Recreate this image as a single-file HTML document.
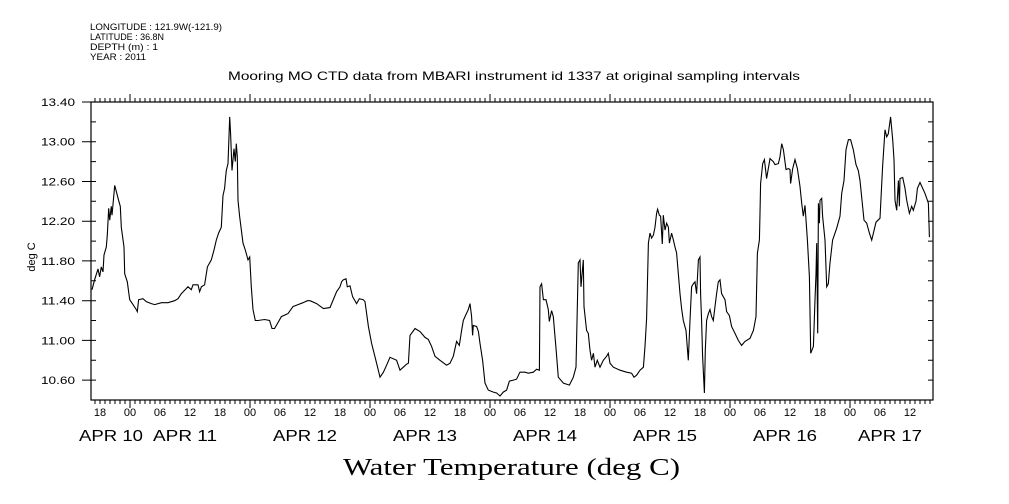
<!DOCTYPE html>
<html><head><meta charset="utf-8"><style>
body{margin:0;background:#fff;}
svg{display:block;font-family:"Liberation Sans",sans-serif;}
</style></head><body>
<svg id="chart" width="1009" height="504" viewBox="0 0 1009 504" xmlns="http://www.w3.org/2000/svg">
<g font-size="9" fill="#000">
<text x="90" y="30" textLength="132" lengthAdjust="spacingAndGlyphs">LONGITUDE : 121.9W(-121.9)</text>
<text x="90" y="40" textLength="74" lengthAdjust="spacingAndGlyphs">LATITUDE : 36.8N</text>
<text x="90" y="50" textLength="68" lengthAdjust="spacingAndGlyphs">DEPTH (m) : 1</text>
<text x="90" y="60" textLength="56" lengthAdjust="spacingAndGlyphs">YEAR : 2011</text>
</g>
<text x="228" y="80" font-size="12" textLength="572" lengthAdjust="spacingAndGlyphs">Mooring MO CTD data from MBARI instrument id 1337 at original sampling intervals</text>
<text x="0" y="0" font-size="11" text-anchor="middle" transform="translate(35,257) rotate(-90)">deg C</text>
<text x="343" y="475" font-size="24" textLength="337" lengthAdjust="spacingAndGlyphs" font-family="'Liberation Serif',serif">Water Temperature (deg C)</text>
<rect x="91" y="102" width="842" height="298" fill="none" stroke="#000" stroke-width="1.2"/>
<g id="ticks"></g>
<g id="labels"></g>
<path id="line" fill="none" stroke="#000" stroke-width="1.1"/>
</svg>
<script>
const hours=[-7.6,-7.07,-6.4,-6.07,-5.73,-5.4,-5.2,-4.73,-4.53,-4.27,-4.07,-3.73,-3.6,-3.2,-3.07,-2.73,-2.27,-1.93,-1.73,-1.2,-1.07,-0.53,-0.07,0.6,1.27,1.47,1.73,2.6,3.27,4.27,4.93,6.27,7.6,8.93,9.6,10.27,11.6,12.27,12.6,13.6,13.93,14.27,14.93,15.47,16.27,16.8,17.27,17.73,18.27,18.6,18.93,19.07,19.27,19.6,19.93,20.13,20.4,20.8,21.07,21.27,21.47,21.6,21.93,22.6,23.07,23.6,23.93,24.27,24.6,25.07,25.6,26.93,27.93,28.4,28.93,30.27,31.6,32.6,33.6,34.6,35.47,
36,37.33,38.67,40,41.33,42,42.33,42.67,43.2,43.47,44,44.53,45.33,45.87,46.67,47,47.67,48.33,49.33,50,50.67,51.33,52,53.33,54,54.67,55.33,55.67,56,57,58,59,59.67,60.33,61,62,63.33,64,64.67,65.33,65.87,66.33,66.67,67,67.67,68,68.33,68.53,68.67,69.33,69.67,70,70.53,71,71.67,72.67,73.33,74,74.67,75.33,75.87,76.67,77.33,77.87,
78,79,79.67,80.67,81.33,81.87,82,82.33,82.67,83.2,83.67,83.87,84.33,84.67,85.2,85.67,86.67,87.87,88.67,89.2,89.67,90,90.2,90.67,90.8,91.33,91.67,92,92.33,92.67,93,93.47,94,94.67,95.33,95.67,96,96.67,98,99.33,100.33,100.8,101.33,102,102.67,103,103.33,103.67,104,104.33,104.67,105,105.33,105.53,105.87,106.13,106.47,106.67,107,107.33,107.67,107.87,108.33,108.67,109,109.33,110,110.33,110.67,111.2,111.67,112,112.33,112.67,113,113.33,113.67,114,114.13,114.33,114.53,114.87,115.07,115.33,115.67,116,116.33,116.67,117,117.33,117.67,118,118.33,119,119.33,119.87,
120.33,121,121.67,122.33,123,124,124.67,125.2,125.47,125.87,126,126.13,126.53,126.87,127.33,127.67,128,128.67,129,129.67,130,130.33,130.67,131.2,131.67,132,132.13,132.53,133,133.47,134,134.33,134.67,135,135.47,135.87,136.13,136.67,137,137.2,137.33,137.53,137.67,137.87,138,138.33,138.53,139,139.33,139.67,140,140.53,141.33,142,142.33,142.8,143.2,143.67,144.13,144.67,145.2,145.67,146,146.8,147.33,147.87,148.33,148.67,149.2,150,150.53,151,151.33,151.67,152.13,152.53,152.8,153,153.33,153.67,153.87,154,154.53,155,155.33,155.87,156.33,156.67,157.2,157.47,158,158.53,159,159.47,159.67,159.87];
const temps=[11.51,11.61,11.72,11.64,11.74,11.69,11.86,11.94,12.06,12.33,12.21,12.35,12.26,12.48,12.56,12.50,12.41,12.35,12.14,11.94,11.67,11.59,11.41,11.36,11.31,11.29,11.41,11.42,11.39,11.37,11.36,11.38,11.38,11.40,11.42,11.47,11.54,11.51,11.56,11.56,11.49,11.54,11.56,11.74,11.81,11.91,12.01,12.08,12.14,12.46,12.53,12.61,12.71,12.78,13.25,13.08,12.71,12.93,12.80,12.98,12.85,12.41,12.25,11.98,11.91,11.81,11.84,11.54,11.31,11.20,11.20,11.21,11.20,11.12,11.12,11.24,11.27,11.34,11.36,11.38,11.40,
11.40,11.37,11.32,11.33,11.49,11.54,11.59,11.61,11.62,11.54,11.55,11.44,11.37,11.42,11.41,11.39,11.14,10.97,10.77,10.63,10.68,10.75,10.83,10.80,10.70,10.73,10.76,10.77,11.05,11.12,11.09,11.03,11.01,10.94,10.84,10.80,10.75,10.77,10.84,10.99,10.95,11.10,11.20,11.24,11.31,11.37,11.24,11.05,11.15,11.14,11.09,10.97,10.80,10.57,10.50,10.48,10.47,10.44,10.48,10.50,10.59,10.60,10.61,10.67,
10.68,10.68,10.67,10.68,10.71,10.70,11.54,11.57,11.41,11.41,11.31,11.19,11.30,11.24,10.92,10.63,10.57,10.55,10.63,10.73,11.78,11.81,11.54,11.81,11.34,11.10,11.07,10.90,10.80,10.87,10.73,10.80,10.73,10.80,10.84,10.87,10.77,10.73,10.70,10.68,10.67,10.63,10.65,10.70,10.73,10.94,11.22,11.98,12.08,12.03,12.06,12.14,12.28,12.32,12.26,12.25,11.97,12.26,12.11,12.18,12.14,11.98,12.08,12.01,11.94,11.88,11.47,11.32,11.20,11.10,10.80,11.20,11.54,11.57,11.59,11.47,11.81,11.84,11.47,11.20,10.84,10.47,10.90,11.20,11.27,11.31,11.24,11.20,11.34,11.47,11.59,11.61,11.47,11.41,11.29,11.25,
11.14,11.07,11.00,10.95,10.99,11.02,11.10,11.24,11.88,12.01,12.28,12.58,12.78,12.82,12.63,12.73,12.83,12.80,12.77,12.78,12.85,12.98,12.92,12.72,12.73,12.72,12.58,12.73,12.82,12.73,12.55,12.38,12.25,12.36,12.01,11.64,10.87,10.94,11.41,11.67,11.98,11.07,12.38,12.18,12.41,12.43,12.25,12.01,11.54,11.57,11.78,12.01,12.13,12.25,12.48,12.61,12.92,13.02,13.02,12.92,12.77,12.71,12.61,12.21,12.18,12.08,12.01,12.08,12.19,12.23,12.75,13.12,13.05,13.08,13.25,13.02,12.82,12.41,12.31,12.61,12.35,12.63,12.64,12.53,12.41,12.28,12.35,12.31,12.40,12.53,12.59,12.53,12.48,12.41,12.38,12.04];
const yTickValues=[13.4,13.0,12.6,12.2,11.8,11.4,11.0,10.6];
const hourLabels=["18","00","06","12","18","00","06","12","18","00","06","12","18","00","06","12","18","00","06","12","18","00","06","12","18","00","06","12"];
const hourLabelTimes=[-6,0,6,12,18,24,30,36,42,48,54,60,66,72,78,84,90,96,102,108,114,120,126,132,138,144,150,156];
const dayLabels=["APR 10","APR 11","APR 12","APR 13","APR 14","APR 15","APR 16","APR 17"];
const dayLabelTimes=[-3.8,11,35,59,83,107,131,152];

const X0=91,X1=933,Y0=102,Y1=400;
const tMin=-7.8,tMax=160.6,vMin=10.4,vMax=13.4;
const xs=t=>X0+(t-tMin)/(tMax-tMin)*(X1-X0);
const ys=v=>Y1-(v-vMin)/(vMax-vMin)*(Y1-Y0);
const NS="http://www.w3.org/2000/svg";
const tg=document.getElementById('ticks'), lg=document.getElementById('labels');
function mk(tag,attrs,parent){const e=document.createElementNS(NS,tag);for(const k in attrs)e.setAttribute(k,attrs[k]);parent.appendChild(e);return e;}
let d='';
for(let h=Math.ceil(tMin);h<=tMax;h++){
  const x=xs(h).toFixed(1), major=(h%24===0), len=major?8:4;
  d+=`M${x} ${Y0}V${Y0-len}M${x} ${Y1}V${Y1+len}`;
}
for(let i=0;i<=15;i++){
  const v=10.4+i*0.2, y=ys(v).toFixed(1);
  const lab=(i%2===1);
  d+=`M${X0} ${y}H${X0+5}M${X1} ${y}H${X1-5}`;
  if(lab) d+=`M${X0} ${y}H${X0-9}`;
}
const tp=mk('path',{d:d,stroke:'#000','stroke-width':1,fill:'none'},tg);


yTickValues.forEach(v=>{
  const t=mk('text',{x:41,y:ys(v)+4,'font-size':11,textLength:34,lengthAdjust:'spacingAndGlyphs'},lg);
  t.textContent=v.toFixed(2);
  
  
});
hourLabels.forEach((s,i)=>{
  const t=mk('text',{x:xs(hourLabelTimes[i]),y:416,'font-size':11,'text-anchor':'middle'},lg);
  t.textContent=s;
  
  
});
dayLabels.forEach((s,i)=>{
  const t=mk('text',{x:xs(dayLabelTimes[i])-32,y:441,'font-size':16,textLength:64,lengthAdjust:'spacingAndGlyphs'},lg);
  t.textContent=s;
  
  
});
let p='';
hours.forEach((h,i)=>{p+=(i?'L':'M')+xs(h).toFixed(1)+' '+ys(temps[i]).toFixed(1);});
document.getElementById('line').setAttribute('d',p);
</script>
</body></html>
